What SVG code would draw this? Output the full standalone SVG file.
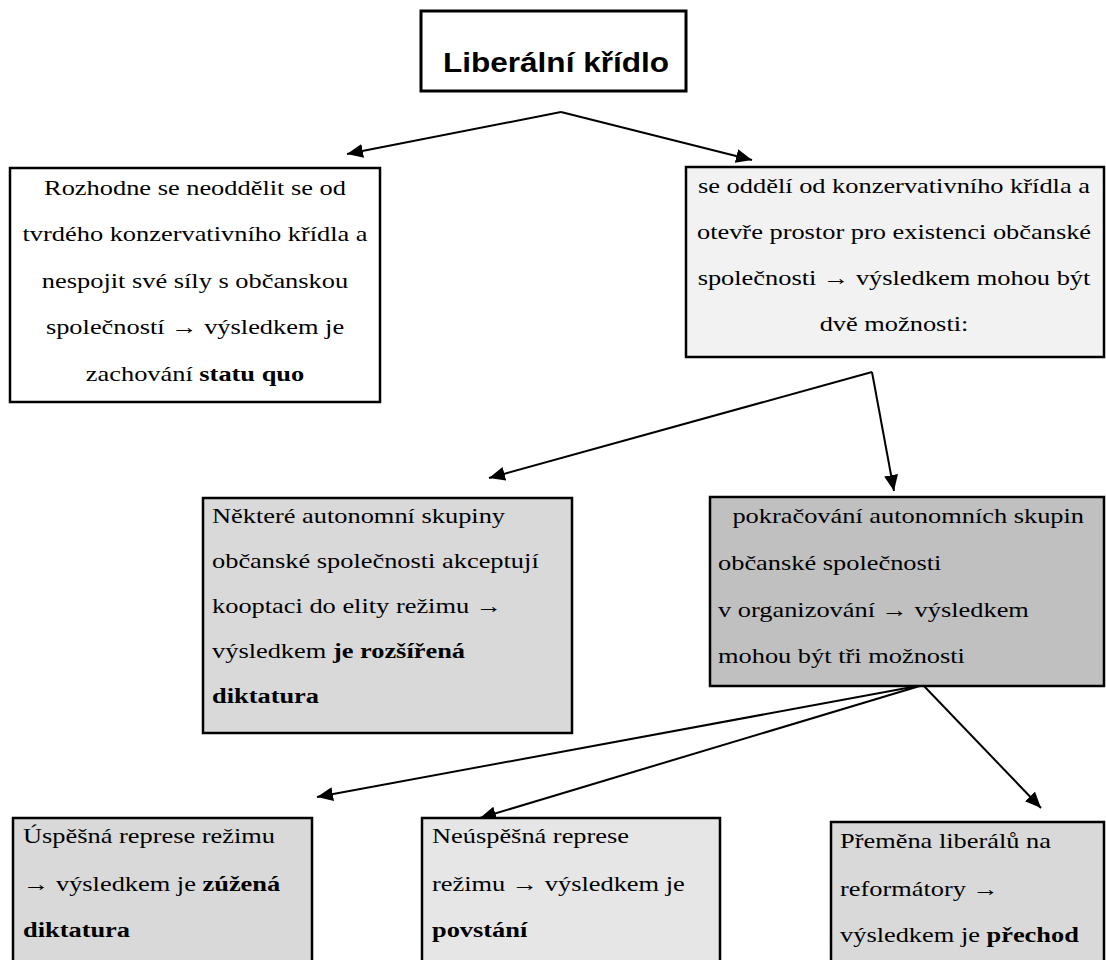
<svg xmlns="http://www.w3.org/2000/svg" width="1106" height="960" viewBox="0 0 1106 960">
<defs>
<style>
.box{stroke:#000;stroke-width:2.5}
.c{text-anchor:middle}
.b{font-weight:bold}
.con{stroke:#000;stroke-width:2;fill:none;marker-end:url(#ah)}
</style>
<marker id="ah" markerUnits="userSpaceOnUse" markerWidth="16" markerHeight="14" refX="16" refY="7" orient="auto">
<path d="M0,0 L16,7 L0,14 z" fill="#000"/>
</marker>
</defs>
<rect width="1106" height="960" fill="#fff"/>
<g id="title">
<rect x="421" y="11" width="265" height="80" fill="#fff" stroke="#000" stroke-width="3"/>
<g transform="translate(556,0) scale(1.12,1)">
<text x="0" y="72" text-anchor="middle" font-family="'Liberation Sans', Arial, sans-serif" font-weight="bold" font-size="28.2">Liberální křídlo</text>
</g>
</g>
<g id="connectors">
<line class="con" x1="561" y1="112" x2="347" y2="154"/>
<line class="con" x1="561" y1="112" x2="752" y2="160"/>
<line class="con" x1="872" y1="372" x2="489" y2="478"/>
<line class="con" x1="872" y1="372" x2="894" y2="491"/>
<line class="con" x1="923" y1="685" x2="317" y2="797"/>
<line class="con" x1="923" y1="685" x2="480" y2="818"/>
<line class="con" x1="923" y1="685" x2="1041" y2="808" stroke-width="1.3"/>
</g>
<g font-family="'Liberation Serif', 'Times New Roman', serif" font-size="22" fill="#000">
<g id="n1">
<rect class="box" x="10" y="168" width="370" height="234" fill="#fff"/>
<g transform="translate(195,0) scale(1.2,1)">
<text class="c" x="0" y="195">Rozhodne se neoddělit se od</text>
<text class="c" x="0" y="241">tvrdého konzervativního křídla a</text>
<text class="c" x="0" y="288">nespojit své síly s občanskou</text>
<text class="c" x="0" y="334">společností → výsledkem je</text>
<text class="c" x="0" y="381">zachování <tspan class="b">statu quo</tspan></text>
</g>
</g>
<g id="n2">
<rect class="box" x="686" y="167" width="418" height="190" fill="#f2f2f2"/>
<g transform="translate(894,0) scale(1.2,1)">
<text class="c" x="0" y="193">se oddělí od konzervativního křídla a</text>
<text class="c" x="0" y="239">otevře prostor pro existenci občanské</text>
<text class="c" x="0" y="285">společnosti → výsledkem mohou být</text>
<text class="c" x="0" y="331">dvě možnosti:</text>
</g>
</g>
<g id="n3">
<rect class="box" x="203" y="498" width="369" height="235" fill="#d9d9d9"/>
<g transform="translate(212,0) scale(1.2,1)">
<text x="0" y="523">Některé autonomní skupiny</text>
<text x="0" y="568">občanské společnosti akceptují</text>
<text x="0" y="613">kooptaci do elity režimu →</text>
<text x="0" y="658">výsledkem <tspan class="b">je rozšířená</tspan></text>
<text class="b" x="0" y="703">diktatura</text>
</g>
</g>
<g id="n4">
<rect class="box" x="710" y="497" width="394" height="189" fill="#c0c0c0"/>
<g transform="translate(718,0) scale(1.2,1)">
<text x="12" y="523">pokračování autonomních skupin</text>
<text x="0" y="570">občanské společnosti</text>
<text x="0" y="617">v organizování → výsledkem</text>
<text x="0" y="663">mohou být tři možnosti</text>
</g>
</g>
<g id="n5">
<rect class="box" x="13" y="818" width="299" height="160" fill="#d9d9d9"/>
<g transform="translate(23,0) scale(1.2,1)">
<text x="0" y="843">Úspěšná represe režimu</text>
<text x="0" y="891">→ výsledkem je <tspan class="b">zúžená</tspan></text>
<text class="b" x="0" y="937">diktatura</text>
</g>
</g>
<g id="n6">
<rect class="box" x="422" y="818" width="298" height="160" fill="#e6e6e6"/>
<g transform="translate(432,0) scale(1.2,1)">
<text x="0" y="843">Neúspěšná represe</text>
<text x="0" y="891">režimu → výsledkem je</text>
<text class="b" x="0" y="937">povstání</text>
</g>
</g>
<g id="n7">
<rect class="box" x="831" y="822" width="273" height="160" fill="#d9d9d9"/>
<g transform="translate(840,0) scale(1.2,1)">
<text x="0" y="848">Přeměna liberálů na</text>
<text x="0" y="896">reformátory →</text>
<text x="0" y="942">výsledkem je <tspan class="b">přechod</tspan></text>
</g>
</g>
</g>
</svg>
